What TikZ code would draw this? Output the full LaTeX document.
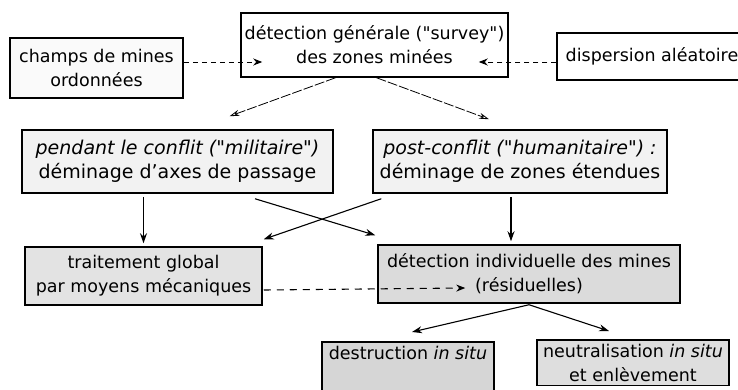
\documentclass[tikz,border=0pt]{standalone}
\usepackage{fontspec}
\setmainfont{DejaVu Sans}
\usetikzlibrary{arrows.meta,calc}
\newcommand\dq{\textquotedbl}
\begin{document}
\begin{tikzpicture}[x=1pt,y=-1pt,
  box/.style={draw=black, line width=1.5pt, align=center, inner sep=0pt,
    font=\fontsize{17.5}{24}\selectfont},
  row1/.style={box, fill=white},
  row2/.style={box, fill=gray!10, font=\fontsize{19}{24}\selectfont},
  row3/.style={box, fill=gray!22},
  row4/.style={box, fill=gray!32, inner ysep=4pt, anchor=north},
  arr/.style={line width=1.1pt, -{Stealth[length=10pt,width=7pt]}},
  thinarr/.style={line width=0.8pt, dash pattern=on 10pt off 2pt, -{Stealth[length=10pt,width=6pt,open]}},
  dsh/.style={line width=0.9pt, dash pattern=on 5pt off 4pt, -{Stealth[length=9pt,width=7pt]}}
]
\useasboundingbox (0,0) rectangle (738,390);
\clip (0,0) rectangle (738,390);

\node[row1, minimum width=267pt, minimum height=64pt] (top) at (374.5,45)
  {détection générale (\dq survey\dq)\\des zones minées};
\node[row1, fill=gray!4, minimum width=173pt, minimum height=60pt] (champs) at (96.5,68)
  {champs de mines\\ordonnées};
\node[row1, minimum width=190pt, minimum height=47pt] (disp) at (652,56.5)
  {dispersion aléatoire};

\node[row2, minimum width=311pt, minimum height=63pt] (pendant) at (177.5,161.5)
  {\textit{pendant le conflit (\dq militaire\dq)}\\déminage d'axes de passage};
\node[row2, minimum width=294pt, minimum height=63pt] (post) at (520,161.5)
  {\textit{post-conflit (\dq humanitaire\dq) :}\\déminage de zones étendues};

\node[row3, minimum width=237pt, minimum height=58pt] (trait) at (143.5,276)
  {traitement global\\par moyens mécaniques};
\node[row3, fill=gray!28, minimum width=302pt, minimum height=58pt] (detind) at (529,274)
  {détection individuelle des mines\\(résiduelles)};

\node[row4, minimum width=172pt] (destr) at (408,341)
  {destruction \textit{in situ}\\\strut};
\node[row4, fill=gray!26, minimum width=192pt] (neutr) at (633,339)
  {neutralisation \textit{in situ}\\et enlèvement};

% dashed side arrows into the survey box
\draw[dsh, shorten >=-22pt] ($(champs.east)+(0,-6)$) -- ($(top.west)+(0,17)$);
\draw[dsh, shorten >=-30pt] ($(disp.west)+(0,5.5)$) -- ($(top.east)+(0,17)$);

% survey box to the two strategies
\draw[thinarr] ($(top.south)+(-39,0)$) -- ($(pendant.north)+(52,-13)$);
\draw[thinarr] ($(top.south)+(2,0)$) -- ($(post.north)+(-31,-10)$);

% strategies to treatments
\draw[arr, shorten <=3pt, shorten >=3pt] (pendant.south -| trait.north) -- (trait.north);
\draw[arr, shorten <=3pt, shorten >=3pt] ($(post.south)+(-9,0)$) -- ($(detind.north)+(-18,0)$);
\draw[arr] ($(pendant.south)+(77.5,5)$) -- ($(detind.north west)+(-2,-9)$);
\draw[arr] ($(post.south west)+(9,5)$) -- ($(trait.north east)+(1,-7)$);

% mechanical treatment to residual detection
\draw[dsh, line width=1.1pt, dash pattern=on 7pt off 6pt] ($(trait.east)+(1,14)$) -- ($(detind.west)+(88,14)$);

% residual detection to final actions
\draw[arr] ($(detind.south)+(0,1)$) -- ($(destr.north)+(4,-9)$);
\draw[arr] ($(detind.south)+(0,1)$) -- ($(neutr.north)+(-24,-8)$);
\end{tikzpicture}
\end{document}
